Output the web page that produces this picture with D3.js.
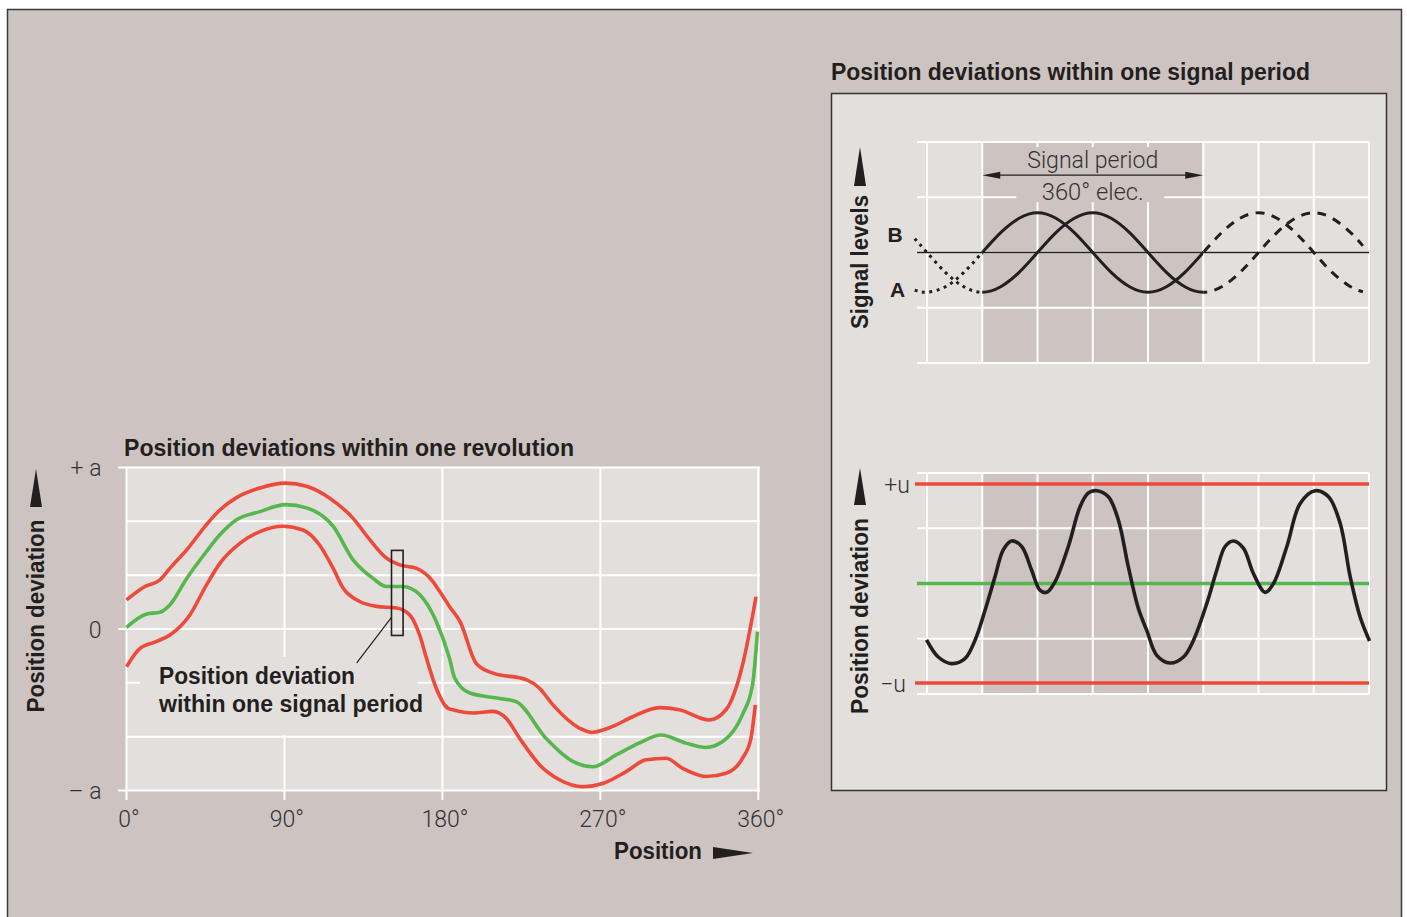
<!DOCTYPE html>
<html><head><meta charset="utf-8">
<script src="https://cdn.jsdelivr.net/npm/d3@7"></script>
<style>body{margin:0;background:#fff}svg{display:block}</style>
</head><body>
<svg id="c" width="1407" height="917"></svg>
<script>
// ---------- DATA ----------
// Left chart: position deviation over one revolution (units: grid steps, a = 3)
const revTicks = [0, 90, 180, 270, 360];
const revTickLabels = ["0°", "90°", "180°", "270°", "360°"];
const devTicks = [3, 0, -3];
const devTickLabels = ["+ a", "0", "– a"];

const upperDeg = [0, 10.5, 19, 24.8, 34.3, 45.6, 53.2, 62.7, 76, 90.6, 102.6, 115.8, 129, 138.6, 148, 155.7, 165, 174.6, 178.4, 184, 190, 199.3, 208.8, 227.8, 235.3, 243, 258, 264.8, 277, 288.4, 303.6, 315, 332, 341.6, 351, 358.7];
const upperVal = [0.54, 0.79, 0.91, 1.13, 1.47, 1.94, 2.21, 2.44, 2.62, 2.71, 2.65, 2.43, 2.06, 1.66, 1.32, 1.19, 1.13, 0.88, 0.70, 0.42, 0.14, -0.64, -0.82, -0.94, -1.10, -1.41, -1.84, -1.92, -1.81, -1.63, -1.46, -1.50, -1.69, -1.50, -0.67, 0.60];

const greenDeg = [0, 11.5, 19, 24.8, 34.3, 45.6, 53.2, 62.7, 76, 90.6, 102.6, 117.7, 129, 140.5, 148, 157.5, 167, 176.5, 184, 187, 195.6, 212.7, 222, 239, 254.3, 265.7, 279, 292, 304.6, 318.8, 330, 339.7, 351, 356.7, 359.5];
const greenVal = [0.03, 0.28, 0.31, 0.45, 0.94, 1.44, 1.75, 2.03, 2.18, 2.31, 2.25, 1.91, 1.29, 0.94, 0.79, 0.79, 0.64, 0.14, -0.54, -0.91, -1.19, -1.29, -1.35, -2.03, -2.46, -2.56, -2.34, -2.12, -1.97, -2.12, -2.20, -2.09, -1.59, -1.04, -0.05];

const lowerDeg = [0, 7.7, 17.2, 24.8, 36.1, 45.6, 53.2, 64.6, 76, 89.2, 100.6, 110, 117.7, 123.4, 132.9, 142.4, 153.8, 161.4, 167, 170.9, 176.5, 183, 186, 197.4, 208.8, 216.4, 224, 235.3, 246.7, 260, 271.4, 284.7, 296, 307.5, 316.9, 330.2, 341.6, 351, 355.8, 358.3];
const lowerVal = [-0.70, -0.36, -0.23, -0.11, 0.26, 0.82, 1.22, 1.59, 1.81, 1.91, 1.84, 1.56, 1.13, 0.76, 0.51, 0.42, 0.39, 0.26, -0.11, -0.54, -1.10, -1.47, -1.50, -1.56, -1.53, -1.66, -2.03, -2.52, -2.80, -2.93, -2.87, -2.65, -2.43, -2.40, -2.59, -2.74, -2.68, -2.40, -2.03, -1.41];

// marker box (one signal period) and its leader, in data units
const boxDeg = [151, 157.6];
const boxVal = [1.46, -0.12];
const leaderDeg = [151.1, 131.2];
const leaderVal = [0.22, -0.63];

// Right charts: electrical degrees
const elecTicks = [-90, 0, 90, 180, 270, 360, 450, 540, 630];
const periodRange = [0, 360];
const sigDeg = [-110, -90, -60, -30, 0, 30, 60, 90, 120, 150, 180, 210, 240, 270, 300, 330, 360, 390, 420, 450, 480, 510, 540, 570, 600, 620];
const sigA = [-0.68, -0.72, -0.62, -0.36, 0, 0.36, 0.62, 0.72, 0.62, 0.36, 0, -0.36, -0.62, -0.72, -0.62, -0.36, 0, 0.36, 0.62, 0.72, 0.62, 0.36, 0, -0.36, -0.62, -0.71];
const sigB = [0.25, 0, -0.36, -0.62, -0.72, -0.62, -0.36, 0, 0.36, 0.62, 0.72, 0.62, 0.36, 0, -0.36, -0.62, -0.72, -0.62, -0.36, 0, 0.36, 0.62, 0.72, 0.62, 0.36, 0.12];

const devDeg = [-90.7, -71.7, -49.9, -28.2, -11.9, 4.4, 20.7, 34.2, 47.9, 64.2, 80.5, 94, 105, 118.5, 140.2, 159.3, 172.8, 186.5, 205.4, 221.7, 238, 254.3, 268, 284.3, 306, 327.8, 344, 365.8, 382, 395.6, 409, 425.4, 441.7, 460.8, 474.4, 496.2, 517.9, 542.4, 564.1, 583, 599.4, 615.7, 630.9];
const devVal = [-1.02, -1.33, -1.45, -1.36, -1.03, -0.49, 0.12, 0.61, 0.77, 0.67, 0.24, -0.12, -0.16, 0.03, 0.67, 1.39, 1.64, 1.68, 1.57, 1.15, 0.30, -0.45, -0.85, -1.30, -1.44, -1.33, -1.03, -0.36, 0.24, 0.67, 0.77, 0.64, 0.18, -0.16, 0.0, 0.67, 1.45, 1.68, 1.57, 1.09, 0.12, -0.61, -1.04];
const tolerance = [1.8, -1.8];

// ---------- STYLE ----------
const BG = "#cdc4c1", PLOT = "#e3dfdc", RED = "#ee4a3b", GREEN = "#56b74e", INK = "#231f20", WHITE = "#ffffff";
const BOLD = "'Liberation Sans', Arial, Helvetica, sans-serif";
const LIGHT = "Roboto, 'Liberation Sans', sans-serif";
const BSIZE = 23;

const svg = d3.select("#c");
svg.append("rect").attr("x", 7.5).attr("y", 9.5).attr("width", 1394).attr("height", 930)
  .attr("fill", BG).attr("stroke", "#3a3a3a").attr("stroke-width", 1.5);

function fit(sel, len) { sel.attr("textLength", len).attr("lengthAdjust", "spacingAndGlyphs"); return sel; }
function zip(xs, ys) { return xs.map((d, i) => [d, ys[i]]); }
function bold(sel, size) { return sel.attr("font-family", BOLD).attr("font-weight", "bold").attr("font-size", size || BSIZE).attr("fill", INK); }
function light(sel, size) { return sel.attr("font-family", LIGHT).attr("font-weight", 300).attr("font-size", size).attr("fill", "#333"); }

// ---------- LEFT CHART ----------
const x1 = d3.scaleLinear().domain([0, 360]).range([126.5, 758.3]);
const y1 = d3.scaleLinear().domain([-3, 3]).range([790.5, 467.5]);
const L = svg.append("g");
L.append("rect").attr("x", x1(0)).attr("y", y1(3)).attr("width", 760 - x1(0)).attr("height", y1(-3) - y1(3)).attr("fill", PLOT);

// horizontal grid
L.selectAll("line.h").data(d3.range(-3, 4)).join("line")
  .attr("x1", d => devTicks.includes(d) ? x1(0) - 8.5 : x1(0)).attr("x2", 760)
  .attr("y1", d => y1(d)).attr("y2", d => y1(d)).attr("stroke", WHITE).attr("stroke-width", 2);
// vertical grid + ticks below
L.selectAll("line.v").data(revTicks).join("line")
  .attr("x1", d => x1(d)).attr("x2", d => x1(d)).attr("y1", y1(3)).attr("y2", y1(-3) + 9.5)
  .attr("stroke", WHITE).attr("stroke-width", 2);

// x axis labels via d3 axis
const xAx = L.append("g").attr("transform", `translate(0,${y1(-3)})`)
  .call(d3.axisBottom(x1).tickValues(revTicks).tickFormat((d, i) => revTickLabels[i]).tickSize(0).tickPadding(20));
xAx.select(".domain").remove();
light(xAx.selectAll("text"), 23).attr("dx", 2);

// y axis labels
const yAx = L.append("g").attr("transform", `translate(${x1(0) - 18},0)`)
  .call(d3.axisLeft(y1).tickValues(devTicks).tickFormat((d, i) => devTickLabels[i]).tickSize(0).tickPadding(7));
yAx.select(".domain").remove();
light(yAx.selectAll("text"), 23).attr("dy", "0.36em");

// label background
L.append("rect").attr("x", 140).attr("y", 657).attr("width", 278).attr("height", 78).attr("fill", PLOT);

const line1 = d3.line().x(d => x1(d[0])).y(d => y1(d[1])).curve(d3.curveMonotoneX);
[[upperDeg, upperVal, RED], [greenDeg, greenVal, GREEN], [lowerDeg, lowerVal, RED]].forEach(([xs, ys, c]) => {
  L.append("path").attr("d", line1(zip(xs, ys))).attr("fill", "none").attr("stroke", c)
    .attr("stroke-width", 3.6).attr("stroke-linejoin", "round").attr("stroke-linecap", "butt");
});

// marker box + leader
L.append("rect").attr("x", x1(boxDeg[0])).attr("y", y1(boxVal[0]))
  .attr("width", x1(boxDeg[1]) - x1(boxDeg[0])).attr("height", y1(boxVal[1]) - y1(boxVal[0]))
  .attr("fill", "none").attr("stroke", INK).attr("stroke-width", 1.6);
L.append("line").attr("x1", x1(leaderDeg[0])).attr("y1", y1(leaderVal[0])).attr("x2", x1(leaderDeg[1])).attr("y2", y1(leaderVal[1]))
  .attr("stroke", INK).attr("stroke-width", 1.2);

bold(fit(L.append("text").attr("x", 159).attr("y", 683.5).text("Position deviation"), 196));
bold(fit(L.append("text").attr("x", 159).attr("y", 712).text("within one signal period"), 264));

bold(fit(svg.append("text").attr("x", 124).attr("y", 456).text("Position deviations within one revolution"), 450));

// vertical axis labels with arrows
function vlabel(cx, cy, txt, len, triTop, triBot) {
  bold(fit(svg.append("text").attr("transform", `translate(${cx},${cy}) rotate(-90)`).attr("text-anchor", "middle")
    .attr("dominant-baseline", "central").text(txt), len));
  svg.append("path").attr("d", `M${cx},${triTop} L${cx + 6},${triBot} L${cx - 6},${triBot} Z`).attr("fill", INK);
}
vlabel(36, 616, "Position deviation", 193, 469, 507);

// Position arrow
bold(fit(svg.append("text").attr("x", 614).attr("y", 859).text("Position"), 88));
svg.append("path").attr("d", "M713,847 L753,853 L713,859 Z").attr("fill", INK);

// ---------- RIGHT PANEL ----------
bold(fit(svg.append("text").attr("x", 831).attr("y", 80).text("Position deviations within one signal period"), 479));
svg.append("rect").attr("x", 831.5).attr("y", 93.5).attr("width", 555).attr("height", 697)
  .attr("fill", PLOT).attr("stroke", "#333").attr("stroke-width", 1.5);

const xs = d3.scaleLinear().domain([-90, 630]).range([927, 1369]);
const ySig = d3.scaleLinear().domain([-2, 2]).range([363, 142]);
const yDev = d3.scaleLinear().domain([-2, 2]).range([694, 473]);

function grid(g, y) {
  g.append("rect").attr("x", xs(periodRange[0])).attr("y", y(2)).attr("width", xs(periodRange[1]) - xs(periodRange[0]))
    .attr("height", y(-2) - y(2)).attr("fill", BG);
  g.selectAll("line.v").data(elecTicks).join("line").attr("class", "v")
    .attr("x1", d => xs(d)).attr("x2", d => xs(d)).attr("y1", y(2)).attr("y2", y(-2))
    .attr("stroke", WHITE).attr("stroke-width", 2);
  g.selectAll("line.h").data(d3.range(-2, 3)).join("line").attr("class", "h")
    .attr("x1", 917).attr("x2", xs(630)).attr("y1", d => y(d)).attr("y2", d => y(d))
    .attr("stroke", WHITE).attr("stroke-width", 2);
}

// top chart
const T = svg.append("g");
grid(T, ySig);
T.append("rect").attr("x", xs(55.4)).attr("y", ySig(1.91)).attr("width", xs(296.5) - xs(55.4))
  .attr("height", ySig(0.91) - ySig(1.91)).attr("fill", BG);
T.append("line").attr("x1", 917).attr("x2", xs(630)).attr("y1", ySig(0)).attr("y2", ySig(0))
  .attr("stroke", INK).attr("stroke-width", 1.5);

const defs = svg.append("defs");
[["clipDot", 880, xs(0)], ["clipSolid", xs(0), xs(360)], ["clipDash", xs(360), 1400]].forEach(([id, a, b]) => {
  defs.append("clipPath").attr("id", id).append("rect").attr("x", a).attr("y", 100).attr("width", b - a).attr("height", 300);
});
const lineS = d3.line().x(d => xs(d[0])).y(d => ySig(d[1])).curve(d3.curveNatural);
[sigA, sigB].forEach(vals => {
  const d = lineS(zip(sigDeg, vals));
  T.append("path").attr("d", d).attr("clip-path", "url(#clipDot)").attr("fill", "none").attr("stroke", INK)
    .attr("stroke-width", 3).attr("stroke-dasharray", "3 4.5");
  T.append("path").attr("d", d).attr("clip-path", "url(#clipSolid)").attr("fill", "none").attr("stroke", INK)
    .attr("stroke-width", 3);
  T.append("path").attr("d", d).attr("clip-path", "url(#clipDash)").attr("fill", "none").attr("stroke", INK)
    .attr("stroke-width", 3).attr("stroke-dasharray", "9 7.5");
});

// signal period arrow
const ay = ySig(1.4);
T.append("line").attr("x1", xs(0) + 12).attr("x2", xs(360) - 12).attr("y1", ay).attr("y2", ay).attr("stroke", INK).attr("stroke-width", 1.2);
T.append("path").attr("d", `M${xs(0)},${ay} L${xs(0) + 18},${ay - 3.5} L${xs(0) + 18},${ay + 3.5} Z`).attr("fill", INK);
T.append("path").attr("d", `M${xs(360)},${ay} L${xs(360) - 18},${ay - 3.5} L${xs(360) - 18},${ay + 3.5} Z`).attr("fill", INK);
light(fit(T.append("text").attr("x", xs(180)).attr("y", 168).attr("text-anchor", "middle").text("Signal period"), 131), 24);
light(fit(T.append("text").attr("x", xs(180)).attr("y", 200).attr("text-anchor", "middle").text("360° elec."), 102), 24);
bold(T.append("text").attr("x", 895).attr("y", 241.5).attr("text-anchor", "middle").text("B"), 21);
bold(T.append("text").attr("x", 897.5).attr("y", 297).attr("text-anchor", "middle").text("A"), 21);
vlabel(860, 262, "Signal levels", 134, 147, 186);

// bottom chart
const B = svg.append("g");
grid(B, yDev);
B.append("line").attr("x1", 917).attr("x2", xs(630)).attr("y1", yDev(0)).attr("y2", yDev(0)).attr("stroke", GREEN).attr("stroke-width", 3.6);
B.selectAll("line.tol").data(tolerance).join("line").attr("class", "tol")
  .attr("x1", 915).attr("x2", xs(630)).attr("y1", d => yDev(d)).attr("y2", d => yDev(d)).attr("stroke", RED).attr("stroke-width", 3.6);
const lineD = d3.line().x(d => xs(d[0])).y(d => yDev(d[1])).curve(d3.curveCatmullRom);
B.append("path").attr("d", lineD(zip(devDeg, devVal))).attr("fill", "none").attr("stroke", INK).attr("stroke-width", 3.6);
light(B.append("text").attr("x", 910).attr("y", 493).attr("text-anchor", "end").text("+u"), 23);
light(B.append("text").attr("x", 906).attr("y", 692).attr("text-anchor", "end").text("−u"), 23);
vlabel(860, 616, "Position deviation", 196, 468, 505);
</script>
</body></html>
